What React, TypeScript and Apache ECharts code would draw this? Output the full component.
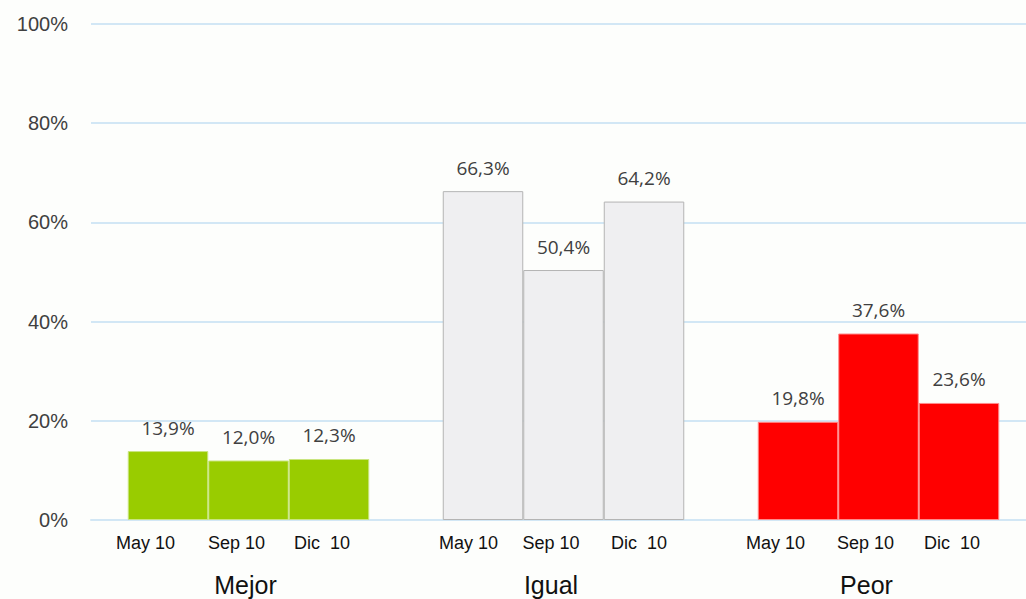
import React, { useEffect, useRef } from "react";
import * as echarts from "echarts";

const categories = ["Mejor", "Igual", "Peor"];
const periods = ["May 10", "Sep 10", "Dic  10"];
const may10 = [13.9, 66.3, 19.8];
const sep10 = [12.0, 50.4, 37.6];
const dic10 = [12.3, 64.2, 23.6];
const seriesValues = [may10, sep10, dic10];
const groupColors = ["#99cc00", "#efeff1", "#ff0000"];
const groupBorders = ["#c9e580", "#b4b4b4", "#ff8c8c"];

const fmt = (v: number) => v.toFixed(1).replace(".", ",") + "%";

const FONT = "Liberation Sans, Arial, sans-serif";
// per-group widths of the sub-label slots and shift of the group label
const slotWidths = [
  [92, 86, 87],
  [83.5, 88.5, 77],
  [91, 87, 87],
];
const groupPadRight = [6, 25, 24];

const rich: Record<string, any> = {};
slotWidths.forEach((ws, gi) => {
  ws.forEach((w, si) => {
    rich[`s${gi}${si}`] = { width: w, align: "left", fontSize: 18, lineHeight: 20, color: "#111", fontFamily: FONT };
  });
  rich[`g${gi}`] = {
    fontSize: 25,
    lineHeight: 64,
    align: "center",
    color: "#111",
    fontFamily: FONT,
    padding: [0, groupPadRight[gi], 0, 0],
  };
});

export default function App() {
  const ref = useRef<HTMLDivElement>(null);
  useEffect(() => {
    if (!ref.current) return;
    const chart = echarts.init(ref.current, undefined, { renderer: "svg" });
    chart.setOption({
      animation: false,
      backgroundColor: "#fdfefc",
      grid: { left: 91, width: 945, top: 24, bottom: 79, outerBoundsMode: "none", containLabel: false },
      yAxis: {
        type: "value",
        min: 0,
        max: 100,
        interval: 20,
        axisLine: { show: false },
        axisTick: { show: false },
        axisLabel: {
          formatter: "{value}%",
          fontFamily: FONT,
          fontSize: 20,
          color: "#404040",
          margin: 23,
        },
        splitLine: { lineStyle: { color: "#d2e7f5", width: 2 } },
      },
      xAxis: {
        type: "category",
        data: categories,
        axisTick: { show: false },
        axisLine: { lineStyle: { color: "#d2e7f5", width: 2 } },
        axisLabel: {
          interval: 0,
          margin: 13,
          color: "#111",
          fontFamily: FONT,
          formatter: (value: string, index: number) =>
            periods.map((p, si) => `{s${index}${si}|${p}}`).join("") + `\n{g${index}|${value}}`,
          rich,
        },
      },
      series: seriesValues.map((vals, si) => ({
        type: "bar",
        name: periods[si],
        barWidth: 80.5,
        barGap: "0%",
        data: vals.map((v, ci) => ({
          value: v,
          itemStyle: {
            color: groupColors[ci],
            borderColor: groupBorders[ci],
            borderWidth: 1,
          },
        })),
        label: {
          show: true,
          position: "top",
          distance: 14,
          formatter: (p: any) => fmt(p.value),
          fontFamily: "Open Sans, sans-serif",
          fontSize: 19,
          color: "#404040",
        },
      })),
    });
    return () => chart.dispose();
  }, []);
  return (
    <div
      ref={ref}
      style={{ position: "fixed", left: 0, top: 0, width: 1026, height: 599 }}
    />
  );
}
